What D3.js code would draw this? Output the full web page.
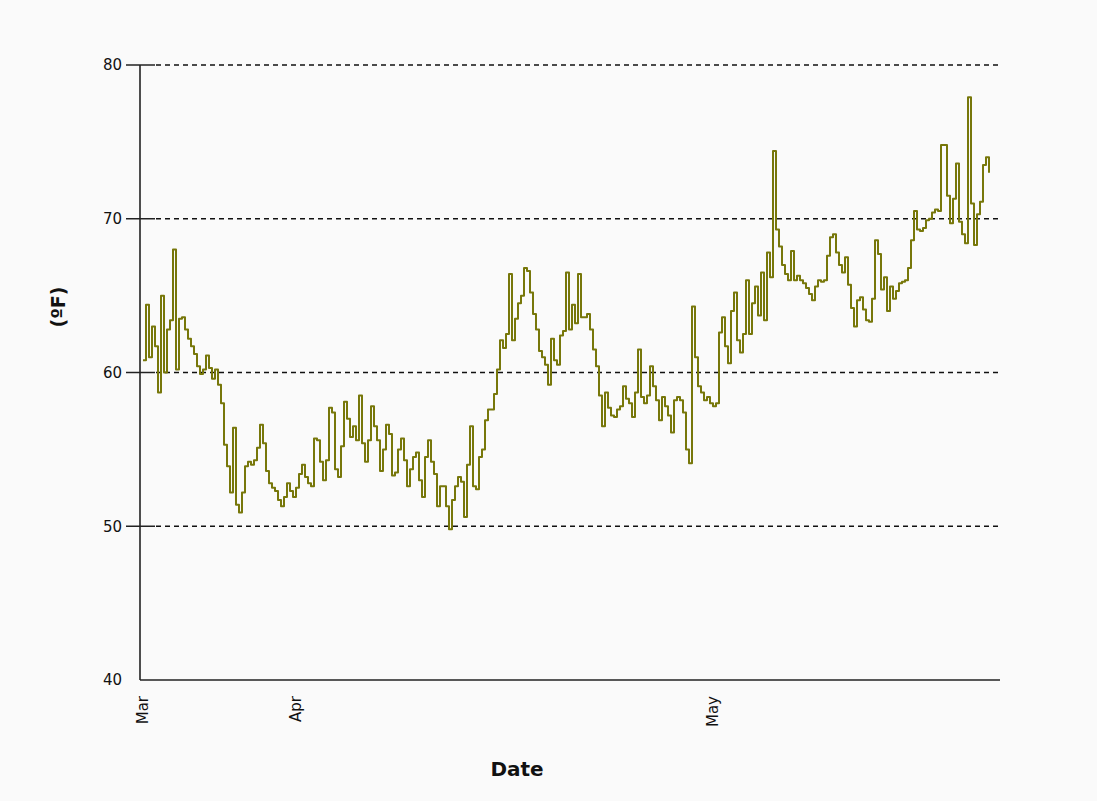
<!DOCTYPE html>
<html>
<head>
<meta charset="utf-8">
<script src="https://cdn.jsdelivr.net/npm/d3@7.9.0/dist/d3.min.js"></script>
<style>
  html, body { margin: 0; padding: 0; background: #fafafa; }
  svg { display: block; }
  text { font-family: "DejaVu Sans", Verdana, sans-serif; fill: #111; }
</style>
</head>
<body>
<svg id="chart" width="1097" height="801"></svg>
<script>
// temperature readings (ºF), in order, Mar through late May
const readings = [
  60.8, 64.4, 61.0, 63.0, 61.7, 58.7, 65.0, 60.0, 62.8, 63.4,
  68.0, 60.2, 63.5, 63.6, 62.8, 62.2, 61.7, 61.2, 60.4, 59.9,
  60.2, 61.1, 60.3, 59.6, 60.2, 59.2, 58.0, 55.3, 53.9, 52.2,
  56.4, 51.4, 50.9, 52.2, 53.9, 54.2, 54.0, 54.3, 55.1, 56.6,
  55.4, 53.6, 52.8, 52.5, 52.3, 51.7, 51.3, 51.9, 52.8, 52.3,
  51.9, 52.5, 53.4, 54.0, 53.2, 52.8, 52.6, 55.7, 55.6, 54.2,
  53.0, 54.3, 57.7, 57.4, 53.7, 53.2, 55.2, 58.1, 57.0, 55.8,
  56.5, 55.6, 58.5, 55.4, 54.2, 55.6, 57.8, 56.5, 55.6, 53.6,
  55.0, 56.6, 56.0, 53.3, 53.5, 55.0, 55.7, 54.3, 52.6, 53.7,
  54.5, 54.8, 53.0, 51.9, 54.5, 55.6, 54.2, 53.4, 51.3, 52.6,
  52.6, 51.3, 49.8, 51.7, 52.6, 53.2, 52.9, 50.6, 54.0, 56.5,
  52.6, 52.4, 54.5, 55.0, 56.9, 57.6, 57.6, 58.6, 60.2, 62.1,
  61.6, 62.5, 66.4, 62.1, 63.5, 64.5, 65.0, 66.8, 66.6, 65.2,
  63.8, 62.8, 61.4, 61.0, 60.5, 59.2, 62.2, 60.8, 60.5, 62.4,
  62.7, 66.5, 62.8, 64.4, 63.2, 66.4, 63.6, 63.6, 63.8, 62.8,
  61.5, 60.4, 58.5, 56.5, 58.7, 57.7, 57.2, 57.1, 57.6, 57.8,
  59.1, 58.3, 58.0, 57.1, 58.7, 61.5, 58.4, 58.0, 58.5, 60.4,
  59.1, 58.2, 56.9, 58.4, 57.8, 57.2, 56.1, 58.2, 58.4, 58.2,
  57.4, 55.0, 54.1, 64.3, 61.0, 59.1, 58.7, 58.2, 58.4, 58.0,
  57.8, 58.0, 62.6, 63.6, 61.7, 60.6, 64.0, 65.2, 62.1, 61.3,
  62.5, 66.0, 62.5, 64.5, 65.6, 63.7, 66.5, 63.4, 67.8, 66.2,
  74.4, 69.3, 68.2, 67.0, 66.4, 66.0, 67.9, 66.0, 66.3, 66.0,
  65.8, 65.5, 65.1, 64.7, 65.6, 66.0, 65.9, 66.0, 67.6, 68.8,
  69.0, 67.8, 67.0, 66.5, 67.5, 65.7, 64.2, 63.0, 64.7, 64.9,
  64.1, 63.4, 63.3, 64.8, 68.6, 67.7, 65.4, 66.2, 64.0, 65.6,
  64.8, 65.3, 65.8, 65.9, 66.0, 66.8, 68.6, 70.5, 69.3, 69.2,
  69.4, 69.9, 70.0, 70.4, 70.6, 70.5, 74.8, 74.8, 71.5, 69.7,
  71.3, 73.6, 69.8, 69.0, 68.4, 77.9, 71.0, 68.3, 70.3, 71.1,
  73.5, 74.0, 73.0
];

// first reading of each month
const monthLabels = ["Mar", "Apr", "May"];
const monthStart = [0, 51, 190];

const yTicks = [40, 50, 60, 70, 80];
const gridValues = [50, 60, 70, 80];

const svg = d3.select("#chart");

const plotLeft = 140, plotRight = 1000, plotTop = 65, plotBottom = 680;

const x = d3.scaleLinear()
  .domain([0, readings.length - 1])
  .range([143, 989]);

const y = d3.scaleLinear()
  .domain([40, 80])
  .range([plotBottom, plotTop]);

// dashed grid
svg.append("g")
  .selectAll("line")
  .data(gridValues)
  .join("line")
  .attr("x1", plotLeft + 16)
  .attr("x2", plotRight)
  .attr("y1", d => y(d))
  .attr("y2", d => y(d))
  .attr("stroke", "#111")
  .attr("stroke-width", 1.5)
  .attr("stroke-dasharray", "5,4");

// y axis
const yAxis = svg.append("g")
  .attr("transform", `translate(${plotLeft},0)`)
  .call(d3.axisLeft(y).tickValues(yTicks).tickSize(0).tickPadding(18));
yAxis.select(".domain").remove();
yAxis.selectAll("text")
  .attr("font-size", 15)
  .attr("font-family", "DejaVu Sans, sans-serif")
  .attr("fill", "#111");

// tick marks crossing the axis
svg.append("g")
  .selectAll("line")
  .data(gridValues)
  .join("line")
  .attr("x1", plotLeft - 14)
  .attr("x2", plotLeft + 15)
  .attr("y1", d => y(d))
  .attr("y2", d => y(d))
  .attr("stroke", "#222")
  .attr("stroke-width", 1.5);

// axis lines
svg.append("line")
  .attr("x1", plotLeft).attr("x2", plotLeft)
  .attr("y1", plotTop).attr("y2", plotBottom)
  .attr("stroke", "#222").attr("stroke-width", 1.6);
svg.append("line")
  .attr("x1", plotLeft).attr("x2", plotRight)
  .attr("y1", plotBottom).attr("y2", plotBottom)
  .attr("stroke", "#222").attr("stroke-width", 1.6);

// month labels, rotated
svg.append("g")
  .selectAll("text")
  .data(monthLabels)
  .join("text")
  .attr("transform", (d, i) => `translate(${x(monthStart[i]) + 5},${plotBottom + 16}) rotate(-90)`)
  .attr("text-anchor", "end")
  .attr("font-size", 15)
  .text(d => d);

// series
const line = d3.line()
  .x((d, i) => x(i))
  .y(d => y(d))
  .curve(d3.curveStepAfter);

svg.append("path")
  .datum(readings)
  .attr("d", line)
  .attr("fill", "none")
  .attr("stroke", "#77770a")
  .attr("stroke-width", 2)
  .attr("stroke-linejoin", "round");

// axis titles
svg.append("text")
  .attr("x", 517)
  .attr("y", 776)
  .attr("text-anchor", "middle")
  .attr("font-size", 20)
  .attr("font-weight", "bold")
  .text("Date");

svg.append("text")
  .attr("transform", "translate(65,307) rotate(-90)")
  .attr("text-anchor", "middle")
  .attr("font-size", 19)
  .attr("font-weight", "bold")
  .text("(ºF)");
</script>
</body>
</html>
